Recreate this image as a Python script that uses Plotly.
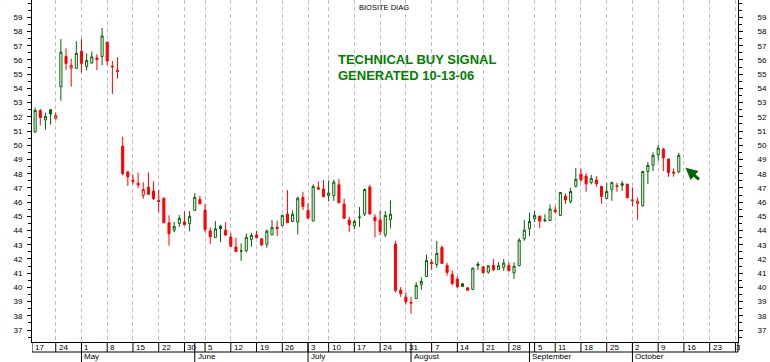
import pandas as pd
import plotly.graph_objects as go

# ---------------- data ----------------
dates = [
    "2006-04-18", "2006-04-19", "2006-04-20", "2006-04-21",
    "2006-04-24", "2006-04-25", "2006-04-26", "2006-04-27", "2006-04-28",
    "2006-05-01", "2006-05-02", "2006-05-03", "2006-05-04", "2006-05-05",
    "2006-05-08", "2006-05-09", "2006-05-10", "2006-05-11", "2006-05-12",
    "2006-05-15", "2006-05-16", "2006-05-17", "2006-05-18", "2006-05-19",
    "2006-05-22", "2006-05-23", "2006-05-24", "2006-05-25", "2006-05-26",
    "2006-05-30", "2006-05-31", "2006-06-01", "2006-06-02",
    "2006-06-05", "2006-06-06", "2006-06-07", "2006-06-08", "2006-06-09",
    "2006-06-12", "2006-06-13", "2006-06-14", "2006-06-15", "2006-06-16",
    "2006-06-19", "2006-06-20", "2006-06-21", "2006-06-22", "2006-06-23",
    "2006-06-26", "2006-06-27", "2006-06-28", "2006-06-29", "2006-06-30",
    "2006-07-03", "2006-07-05", "2006-07-06", "2006-07-07",
    "2006-07-10", "2006-07-11", "2006-07-12", "2006-07-13", "2006-07-14",
    "2006-07-17", "2006-07-18", "2006-07-19", "2006-07-20", "2006-07-21",
    "2006-07-24", "2006-07-25", "2006-07-26", "2006-07-27", "2006-07-28",
    "2006-07-31", "2006-08-01", "2006-08-02", "2006-08-03", "2006-08-04",
    "2006-08-07", "2006-08-08", "2006-08-09", "2006-08-10", "2006-08-11",
    "2006-08-14", "2006-08-15", "2006-08-16", "2006-08-17", "2006-08-18",
    "2006-08-21", "2006-08-22", "2006-08-23", "2006-08-24", "2006-08-25",
    "2006-08-28", "2006-08-29", "2006-08-30", "2006-08-31", "2006-09-01",
    "2006-09-05", "2006-09-06", "2006-09-07", "2006-09-08",
    "2006-09-11", "2006-09-12", "2006-09-13", "2006-09-14", "2006-09-15",
    "2006-09-18", "2006-09-19", "2006-09-20", "2006-09-21", "2006-09-22",
    "2006-09-25", "2006-09-26", "2006-09-27", "2006-09-28", "2006-09-29",
    "2006-10-02", "2006-10-03", "2006-10-04", "2006-10-05", "2006-10-06",
    "2006-10-09", "2006-10-10", "2006-10-11", "2006-10-12", "2006-10-13",
]

opens = [
    50.95, 52.45, 51.78, 52.50,
    51.87, 54.12, 56.25, 55.42, 55.41,
    56.60, 55.55, 55.78, 56.14, 56.25,
    57.26, 55.57, 55.27, 49.94, 48.12,
    47.55, 47.33, 46.48, 47.05, 46.78,
    46.12, 46.28, 44.55, 44.03, 44.50,
    44.60, 44.50, 45.42, 46.19,
    45.44, 43.98, 43.52, 44.31, 44.03,
    43.54, 42.84, 42.55, 42.58, 43.38,
    43.68, 43.42, 43.03, 43.70, 44.24,
    44.36, 45.16, 44.64, 44.60, 46.33,
    45.42, 44.67, 46.90, 46.92,
    46.47, 46.47, 47.22, 45.86, 44.74,
    44.33, 44.92, 45.16, 47.06, 44.93,
    44.74, 43.70, 44.78, 43.05, 39.81,
    39.32, 38.95, 39.22, 40.21, 40.77,
    41.78, 41.62, 42.81, 41.55, 40.91,
    40.58, 40.25, 39.97, 39.86, 41.64,
    41.45, 41.08, 41.55, 41.27, 41.41,
    41.55, 41.03, 41.52, 43.42, 44.15,
    44.83, 45.02, 44.75, 44.71,
    45.44, 45.07, 46.42, 46.05, 47.11,
    47.97, 47.83, 47.39, 47.55, 47.11,
    46.26, 46.90, 47.15, 47.30, 47.27,
    46.16, 45.91, 45.74, 48.16, 48.61,
    49.33, 49.73, 49.03, 48.12, 48.13,
]

highs = [
    52.65, 52.55, 52.30, 52.52,
    52.30, 57.47, 56.82, 56.07, 57.33,
    57.47, 56.46, 56.60, 56.42, 58.25,
    57.27, 55.93, 56.18, 50.60, 48.20,
    47.95, 48.07, 47.40, 48.10, 47.47,
    46.85, 46.30, 45.07, 44.60, 45.09,
    45.35, 45.37, 46.64, 46.45,
    45.86, 44.22, 44.67, 44.40, 44.60,
    43.80, 43.49, 43.10, 43.80, 43.84,
    43.98, 43.43, 44.08, 44.74, 44.69,
    45.10, 46.85, 45.42, 46.38, 46.73,
    45.91, 47.25, 47.46, 47.55,
    47.53, 47.57, 47.62, 46.24, 44.97,
    44.76, 45.65, 46.97, 47.22, 45.16,
    45.39, 45.37, 46.12, 43.28, 40.02,
    39.65, 39.32, 40.37, 40.70, 42.32,
    42.00, 43.26, 42.95, 41.73, 41.20,
    40.75, 40.32, 40.00, 41.38, 41.80,
    41.50, 41.55, 42.00, 41.78, 42.00,
    41.78, 41.76, 43.47, 44.74, 45.25,
    45.37, 45.03, 45.14, 45.84,
    45.70, 46.70, 46.61, 47.01, 48.40,
    48.35, 48.02, 47.92, 47.83, 47.12,
    47.34, 47.40, 47.36, 47.50, 47.28,
    47.04, 46.33, 48.18, 48.82, 49.50,
    50.03, 49.80, 49.05, 48.37, 49.47,
]

lows = [
    50.88, 51.40, 51.10, 51.45,
    51.83, 53.13, 55.30, 54.12, 55.40,
    55.10, 55.27, 55.76, 55.30, 55.62,
    55.64, 53.62, 54.68, 47.88, 47.15,
    47.25, 46.97, 46.24, 46.52, 46.15,
    45.28, 44.53, 42.93, 43.87, 44.26,
    44.40, 43.94, 45.38, 45.85,
    43.89, 43.05, 43.50, 43.19, 43.66,
    42.86, 42.50, 41.87, 42.46, 42.86,
    43.48, 42.90, 42.79, 43.68, 43.61,
    44.29, 44.53, 44.60, 43.73, 45.44,
    44.81, 44.65, 46.88, 46.36,
    46.05, 46.09, 45.93, 44.85, 43.91,
    44.08, 44.26, 45.02, 45.14, 43.52,
    43.68, 43.52, 44.15, 39.65, 39.34,
    38.80, 38.14, 39.20, 39.83, 40.75,
    41.24, 41.38, 41.67, 40.82, 40.14,
    39.97, 40.04, 39.78, 39.84, 41.22,
    41.00, 40.96, 41.15, 41.25, 41.17,
    41.15, 40.60, 41.50, 43.28, 43.61,
    44.60, 44.17, 44.60, 44.67,
    45.21, 45.05, 45.88, 45.91, 47.04,
    47.43, 46.73, 47.25, 47.08, 45.88,
    46.24, 46.09, 46.73, 46.80, 46.28,
    45.72, 44.76, 45.72, 47.27, 48.18,
    48.91, 48.18, 47.78, 47.78, 48.04,
]

closes = [
    52.45, 51.95, 52.02, 52.20,
    52.08, 56.55, 55.76, 55.62, 56.46,
    55.76, 55.97, 56.22, 56.03, 57.69,
    55.93, 55.52, 55.20, 48.00, 47.78,
    47.45, 47.22, 46.88, 46.55, 46.25,
    46.05, 44.55, 43.78, 44.29, 44.86,
    44.41, 45.00, 46.33, 45.88,
    44.08, 43.56, 44.12, 44.14, 43.68,
    42.90, 42.52, 42.57, 43.52, 43.66,
    43.50, 43.00, 43.96, 44.22, 44.14,
    45.07, 44.55, 45.14, 46.28, 45.70,
    44.88, 47.10, 47.03, 46.38,
    46.64, 47.41, 45.95, 44.86, 44.41,
    44.64, 44.95, 46.89, 45.16, 44.69,
    43.94, 45.07, 45.16, 39.79, 39.56,
    38.99, 38.90, 40.14, 40.42, 41.90,
    41.68, 42.39, 41.69, 41.05, 40.28,
    40.04, 40.07, 39.80, 41.36, 41.55,
    41.03, 41.52, 41.24, 41.52, 41.71,
    41.17, 41.50, 43.33, 44.03, 44.64,
    45.07, 44.67, 44.70, 45.51,
    45.33, 46.68, 46.15, 46.75, 47.60,
    47.57, 47.29, 47.67, 47.29, 46.40,
    46.75, 47.39, 47.10, 47.18, 46.31,
    46.12, 46.07, 48.16, 48.58, 49.29,
    49.80, 49.12, 48.08, 48.05, 49.29,
]

holidays = ["2006-05-29", "2006-07-04", "2006-09-04"]

week_dates = [
    "2006-04-17", "2006-04-24", "2006-05-01", "2006-05-08", "2006-05-15",
    "2006-05-22", "2006-05-30", "2006-06-05", "2006-06-12", "2006-06-19",
    "2006-06-26", "2006-07-03", "2006-07-10", "2006-07-17", "2006-07-24",
    "2006-07-31", "2006-08-07", "2006-08-14", "2006-08-21", "2006-08-28",
    "2006-09-05", "2006-09-11", "2006-09-18", "2006-09-25", "2006-10-02",
    "2006-10-09", "2006-10-16", "2006-10-23", "2006-10-30",
]
week_labels = ["17", "24", "1", "8", "15", "22", "30", "5", "12", "19", "26",
               "3", "10", "17", "24", "31", "7", "14", "21", "28", "5", "11",
               "18", "25", "2", "9", "16", "23", "30"]

month_dates = ["2006-05-01", "2006-06-01", "2006-07-03", "2006-08-01",
               "2006-09-01", "2006-10-02"]
month_labels = ["May", "June", "July", "August", "September", "October"]

title_text = "BIOSITE DIAG"
signal_lines = ["TECHNICAL BUY SIGNAL", "GENERATED 10-13-06"]

# ---------------- trading-day scale ----------------
cal = [d.strftime("%Y-%m-%d") for d in pd.bdate_range("2006-04-17", "2006-10-31")]
cal = [d for d in cal if d not in holidays]
pos = {d: i for i, d in enumerate(cal)}
xs = [pos[d] for d in dates]

X_RANGE = [0.39, 137.5]
Y_RANGE = [36.16, 60.22]
PLOT_H = 342.0
PLOT_W = 706.0
ROW = 10.0 / PLOT_H

GREEN = "#006400"
RED = "#ff0000"

# colour by change vs previous close, hollow when close > open
up = [True] + [closes[i] >= closes[i - 1] for i in range(1, len(closes))]


def subset(flag):
    idx = [i for i in range(len(xs)) if up[i] == flag]
    return ([xs[i] for i in idx], [opens[i] for i in idx], [highs[i] for i in idx],
            [lows[i] for i in idx], [closes[i] for i in idx])


fig = go.Figure()
for flag, col in [(True, GREEN), (False, RED)]:
    sx, so, sh, sl, sc = subset(flag)
    fig.add_trace(go.Candlestick(
        x=sx, open=so, high=sh, low=sl, close=sc,
        increasing=dict(line=dict(color=col, width=1), fillcolor="white"),
        decreasing=dict(line=dict(color=col, width=1), fillcolor=col),
        whiskerwidth=0, showlegend=False, hoverinfo="skip",
    ))

# invisible copy of the closes so the right-hand price axis is drawn
fig.add_trace(go.Scatter(x=xs, y=closes, yaxis="y2", mode="lines",
                         line=dict(width=0, color="rgba(0,0,0,0)"),
                         showlegend=False, hoverinfo="skip"))

font_family = "Liberation Sans, Arial, sans-serif"

shapes = []
annotations = []

# day-number row
for d, lab in zip(week_dates, week_labels):
    px = max(pos[d], X_RANGE[0])
    shapes.append(dict(type="line", xref="x", yref="paper", x0=px, x1=px,
                       y0=0, y1=-ROW, line=dict(color="black", width=1)))
    ann = dict(xref="x", yref="paper", x=px, y=-ROW / 2, text=lab,
               showarrow=False, xanchor="left", yanchor="middle", xshift=1,
               font=dict(size=8, color="black", family=font_family))
    if pos[d] > X_RANGE[1] - 2:
        # label runs into the right frame: show only what fits
        ann.update(width=4, align="left", borderpad=0, xshift=0)
    annotations.append(ann)

# month row
for d, lab in zip(month_dates, month_labels):
    px = pos[d]
    shapes.append(dict(type="line", xref="x", yref="paper", x0=px, x1=px,
                       y0=0, y1=-2 * ROW, line=dict(color="black", width=1)))
    annotations.append(dict(xref="x", yref="paper", x=px, y=-1.5 * ROW, text=lab,
                            showarrow=False, xanchor="left", yanchor="middle", xshift=1,
                            font=dict(size=8, color="black", family=font_family)))

shapes.append(dict(type="line", xref="x", yref="paper", x0=X_RANGE[0], x1=X_RANGE[1],
                   y0=-ROW, y1=-ROW, line=dict(color="black", width=1)))
shapes.append(dict(type="line", xref="paper", yref="paper", x0=1, x1=1,
                   y0=0, y1=-ROW, line=dict(color="black", width=1)))

# title and signal text
annotations.append(dict(xref="paper", yref="paper", x=(384 - 32) / PLOT_W, y=1 - 7 / PLOT_H,
                        text=title_text, showarrow=False, xanchor="center", yanchor="middle",
                        font=dict(size=7.5, color="black", family=font_family)))
for k, line in enumerate(signal_lines):
    annotations.append(dict(xref="paper", yref="paper", x=(336 - 32) / PLOT_W,
                            y=1 - (59 + 16 * k) / PLOT_H, text="<b>" + line + "</b>",
                            showarrow=False, xanchor="left", yanchor="middle",
                            font=dict(size=13, color="#008000", family=font_family)))

# buy-signal arrow next to the last candle
annotations.append(dict(xref="x", yref="y", x=xs[-1] + 1.3, y=48.42, text="",
                        showarrow=True, arrowhead=2, arrowsize=0.8, arrowwidth=3,
                        arrowcolor=GREEN, ax=15, ay=13, standoff=0))

yticks = list(range(37, 60))
yaxis_common = dict(
    range=Y_RANGE, tickvals=yticks, ticktext=[str(v) for v in yticks],
    ticks="outside", ticklen=4, tickcolor="black", tickwidth=1,
    showline=True, linecolor="black", linewidth=1, showgrid=False, zeroline=False,
    tickfont=dict(size=8, color="black", family=font_family),
    minor=dict(tick0=0, dtick=0.5, ticks="outside", ticklen=3, tickcolor="black"),
    fixedrange=True,
)

fig.update_layout(
    width=770, height=362,
    margin=dict(l=32, r=32, t=0, b=20),
    paper_bgcolor="white", plot_bgcolor="white",
    font=dict(family=font_family, size=8, color="black"),
    boxgap=0.42,
    xaxis=dict(range=X_RANGE, tickvals=[pos[d] for d in week_dates],
               showticklabels=False, ticks="", showgrid=True, gridcolor="#c0c0c0",
               gridwidth=1, griddash="4px,3px", showline=True, linecolor="black",
               linewidth=1, zeroline=False, rangeslider=dict(visible=False),
               fixedrange=True),
    yaxis=dict(side="left", ticklabelstandoff=3, **yaxis_common),
    yaxis2=dict(side="right", overlaying="y", anchor="x", ticklabelstandoff=13,
                **yaxis_common),
    shapes=shapes, annotations=annotations,
    showlegend=False,
)

fig.write_html(
    "out.html",
    config={"displayModeBar": False},
    post_script="document.body.style.margin='0px';document.body.style.overflow='hidden';",
)
